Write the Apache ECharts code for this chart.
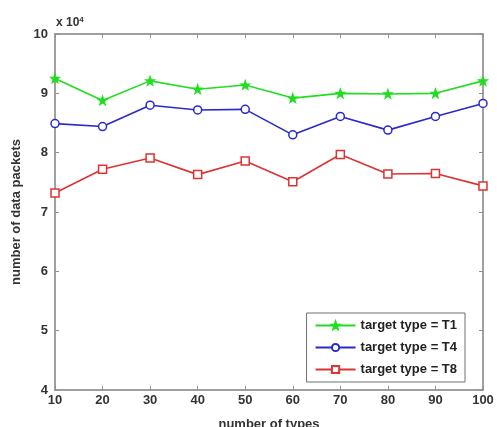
<!DOCTYPE html>
<html><head><meta charset="utf-8">
<script src="https://cdn.jsdelivr.net/npm/echarts@6/dist/echarts.min.js"></script>
<style>html,body{margin:0;padding:0;background:#fff}#c{width:497px;height:427px}</style>
</head><body><div id="c"></div>
<script>
const types = [10,20,30,40,50,60,70,80,90,100];
const t1 = [9.25,8.88,9.21,9.07,9.14,8.92,9.00,8.99,9.00,9.21];
const t4 = [8.49,8.44,8.80,8.72,8.73,8.30,8.61,8.38,8.61,8.83];
const t8 = [7.32,7.72,7.91,7.63,7.86,7.51,7.97,7.64,7.65,7.44];
const seriesNames = ['target type = T1','target type = T4','target type = T8'];
const xTicks = ['10','20','30','40','50','60','70','80','90','100'];

const chart = echarts.init(document.getElementById('c'));
const font = 'Arial, "Liberation Sans", sans-serif';
const star = 'path://M0,-10 L2.4,-3.3 L9.5,-3.1 L3.9,1.3 L5.9,8.1 L0,4.1 L-5.9,8.1 L-3.9,1.3 L-9.5,-3.1 L-2.4,-3.3 Z';
const axisLine = {show:true, lineStyle:{color:'#808080', width:1.5}};
const tickIn = {show:true, inside:true, length:4, lineStyle:{color:'#909090'}};
function mk(name, vals, color, symbol, size, fill){
  return {name, type:'line', data: types.map((x,i)=>[x, vals[i]]), symbol, symbolSize:size,
    lineStyle:{color, width:1.6}, itemStyle:{color: fill, borderColor:color, borderWidth:1.5}, color,
    emphasis:{disabled:true}};
}
chart.setOption({
  animation:false,
  grid:{left:55, right:14, top:34, bottom:37, outerBoundsMode:'none', containLabel:false},
  legend:{
    orient:'vertical', right:32, bottom:45, width:180,
    itemWidth:40, itemHeight:9, itemGap:9, padding:[6,8,6,8],
    borderColor:'#707070', borderWidth:1, backgroundColor:'#fff',
    textStyle:{fontFamily:font, fontWeight:'bold', fontSize:13, color:'#222'},
    data: seriesNames
  },
  xAxis:[{type:'value', min:10, max:100, interval:10, axisLine, axisTick:tickIn, splitLine:{show:false},
    axisLabel:{fontFamily:font, fontWeight:'bold', fontSize:13, color:'#333', margin:4,
      formatter:(v)=>xTicks[Math.round((v-10)/10)]},
    name:'number of types', nameLocation:'middle', nameGap:28,
    nameTextStyle:{fontFamily:font, fontSize:13, fontWeight:'bold', color:'#333'}},
   {type:'value', position:'top', min:10, max:100, interval:10, axisLine, axisTick:tickIn, axisLabel:{show:false}, splitLine:{show:false}}],
  yAxis:[{type:'value', min:4, max:10, interval:1, axisLine, axisTick:tickIn, splitLine:{show:false},
    axisLabel:{fontFamily:font, fontWeight:'bold', fontSize:13, color:'#333', margin:7},
    name:'number of data packets', nameLocation:'middle', nameGap:30,
    nameTextStyle:{fontFamily:font, fontSize:13, fontWeight:'bold', color:'#333'}},
   {type:'value', position:'right', min:4, max:10, interval:1, axisLine, axisTick:tickIn, axisLabel:{show:false}, splitLine:{show:false}}],
  graphic:[{type:'text', left:56, top:16, style:{
    text:'{a|x 10}{b|4}', rich:{a:{fontFamily:font, fontWeight:'bold', fontSize:12, fill:'#333'},
      b:{fontFamily:font, fontWeight:'bold', fontSize:8, fill:'#333', verticalAlign:'top', padding:[0,0,6,0]}}}}],
  series:[
    mk(seriesNames[0], t1, '#22dd22', star, 8, '#22dd22'),
    mk(seriesNames[1], t4, '#2a2acc', 'circle', 8, '#ffffff'),
    mk(seriesNames[2], t8, '#dd3333', 'rect', 8, '#ffffff')
  ]
});
</script></body></html>
